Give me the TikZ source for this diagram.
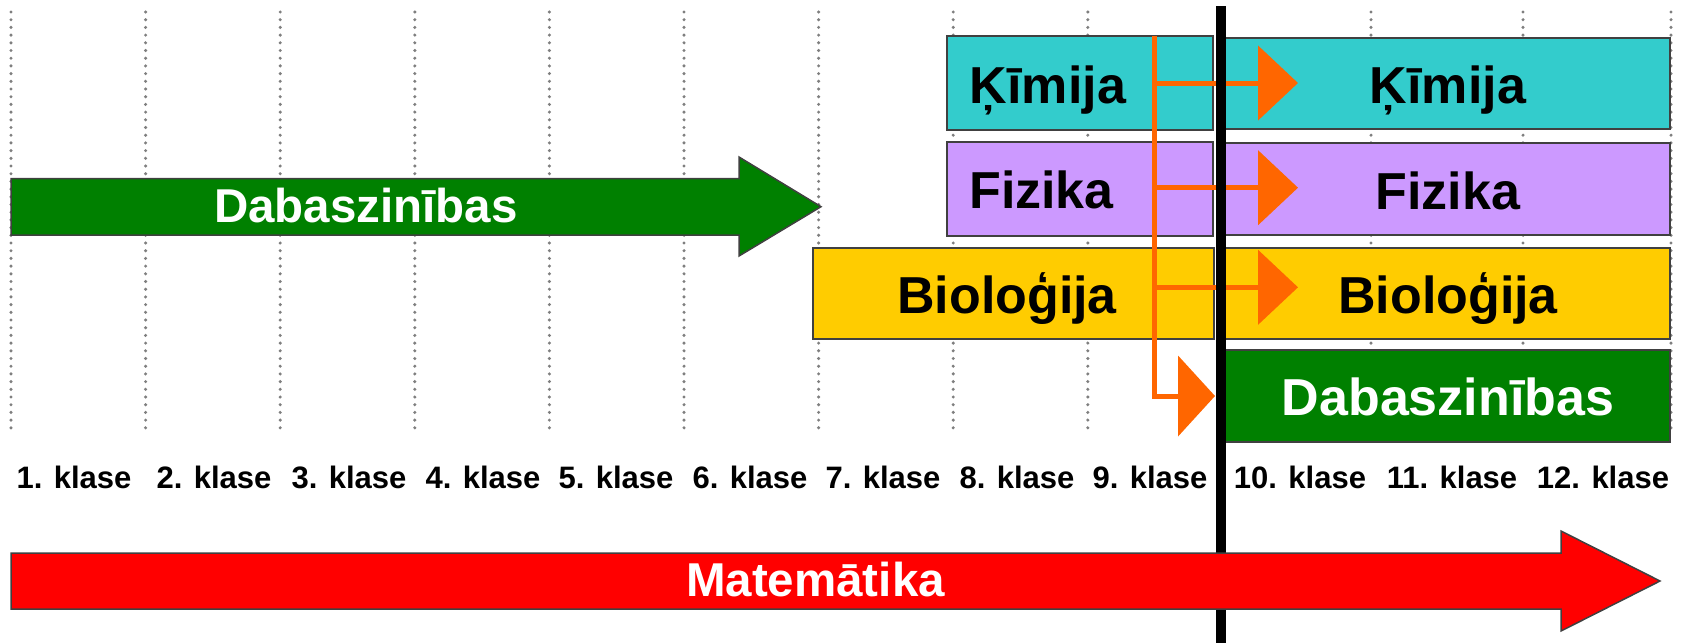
\documentclass[tikz,border=0pt]{standalone}
\usepackage{fontspec}
\setmainfont{Liberation Sans}
\usetikzlibrary{arrows.meta}
\definecolor{kim}{HTML}{33CCCC}
\definecolor{fiz}{HTML}{CC99FF}
\definecolor{bio}{HTML}{FFCC00}
\definecolor{dab}{HTML}{008000}
\definecolor{mat}{HTML}{FF0000}
\definecolor{orng}{HTML}{FF6600}
\definecolor{dotg}{HTML}{7F7F7F}
\definecolor{edge}{HTML}{404040}
\begin{document}
\begin{tikzpicture}[x=1pt,y=-1pt,
  gridline/.style={dotg, line width=3.4pt, line cap=round, dash pattern=on 0pt off 7.7pt},
  subjbox/.style={draw=edge, line width=1.5pt, inner sep=0pt, outer sep=0pt},
  bigtxt/.style={font=\fontsize{52}{60}\selectfont\bfseries, anchor=base, inner sep=0pt},
  midtxt/.style={font=\fontsize{47.5}{55}\selectfont\bfseries, anchor=base, inner sep=0pt, text=white},
  lbl/.style={font=\fontsize{31}{36}\selectfont\bfseries, anchor=base, inner sep=0pt},
  blockarrow/.style={draw=edge, line width=1.5pt, line join=miter},
  branch/.style={orng, line width=5pt, -{Triangle[length=40pt,width=74pt]}},
]
\useasboundingbox (0,0) rectangle (1686,643);
% dotted grid
\foreach \gx in {11,145.6,280.2,414.8,549.4,684,818.6,953.2,1087.8,1222.4,1371,1523,1671}
  \draw[gridline] (\gx,12) -- (\gx,430);
% left green arrow
\draw[blockarrow, fill=dab] (11,178.5) -- (739,178.5) -- (739,157) -- (821,206.7) -- (739,256) -- (739,235) -- (11,235) -- cycle;
\node[midtxt] (dabL) at (366,222.7) {Dabaszinības};
% left boxes
\node[subjbox, fill=kim, minimum width=266pt, minimum height=94pt] (kimL) at (1080,83) {};
\node[subjbox, fill=fiz, minimum width=266pt, minimum height=94pt] (fizL) at (1080,189) {};
\node[subjbox, fill=bio, minimum width=401pt, minimum height=91pt] (bioL) at (1013.5,293.5) {};
% right boxes
\node[subjbox, fill=kim, minimum width=448pt, minimum height=91pt] (kimR) at (1446,83.5) {};
\node[subjbox, fill=fiz, minimum width=448pt, minimum height=92pt] (fizR) at (1446,189) {};
\node[subjbox, fill=bio, minimum width=448pt, minimum height=91pt] (bioR) at (1446,293.5) {};
\node[subjbox, fill=dab, minimum width=448pt, minimum height=92pt] (dabR) at (1446,396) {};
% box texts
\node[bigtxt] (tkimL) at (1048,103) {Ķīmija};
\node[bigtxt] (tfizL) at (1041.5,208) {Fizika};
\node[bigtxt] (tbioL) at (1007,313) {Bioloģija};
\node[bigtxt] (tkimR) at (1448,103) {Ķīmija};
\node[bigtxt] (tfizR) at (1448,209) {Fizika};
\node[bigtxt] (tbioR) at (1448,313) {Bioloģija};
\node[bigtxt, text=white] (tdabR) at (1448,415) {Dabaszinības};
% orange connectors
\coordinate (otop) at (1154,36);
\coordinate (obot) at (1215,396);
\coordinate (bk) at (1154,83);
\coordinate (ek) at (1298,83);
\coordinate (bf) at (1154,187.7);
\coordinate (ef) at (1298,187.7);
\coordinate (bb) at (1154,287.3);
\coordinate (eb) at (1298,287.3);
\draw[orng, line width=5pt, line join=miter, -{Triangle[length=37pt,width=80pt]}] (otop) |- (obot);
\draw[branch] (bk) -- (ek);
\draw[branch] (bf) -- (ef);
\draw[branch] (bb) -- (eb);
% black divider
\coordinate (blt) at (1221,6);
\coordinate (blb) at (1221,643);
\draw[line width=9.5pt] (blt) -- (blb);
% red arrow
\draw[blockarrow, fill=mat] (11,553) -- (1561,553) -- (1561,531) -- (1660,581) -- (1561,631) -- (1561,609) -- (11,609) -- cycle;
\node[midtxt] (tmat) at (815.5,596.7) {Matemātika};
% grade labels
\foreach \lx/\lt [count=\i] in {74/1,214/2,349/3,483/4,616/5,750/6,883/7,1017/8,1150/9,1300/10,1452/11,1603/12}
  \node[lbl] (k\i) at (\lx,488) {\lt. klase};
\end{tikzpicture}
\end{document}
